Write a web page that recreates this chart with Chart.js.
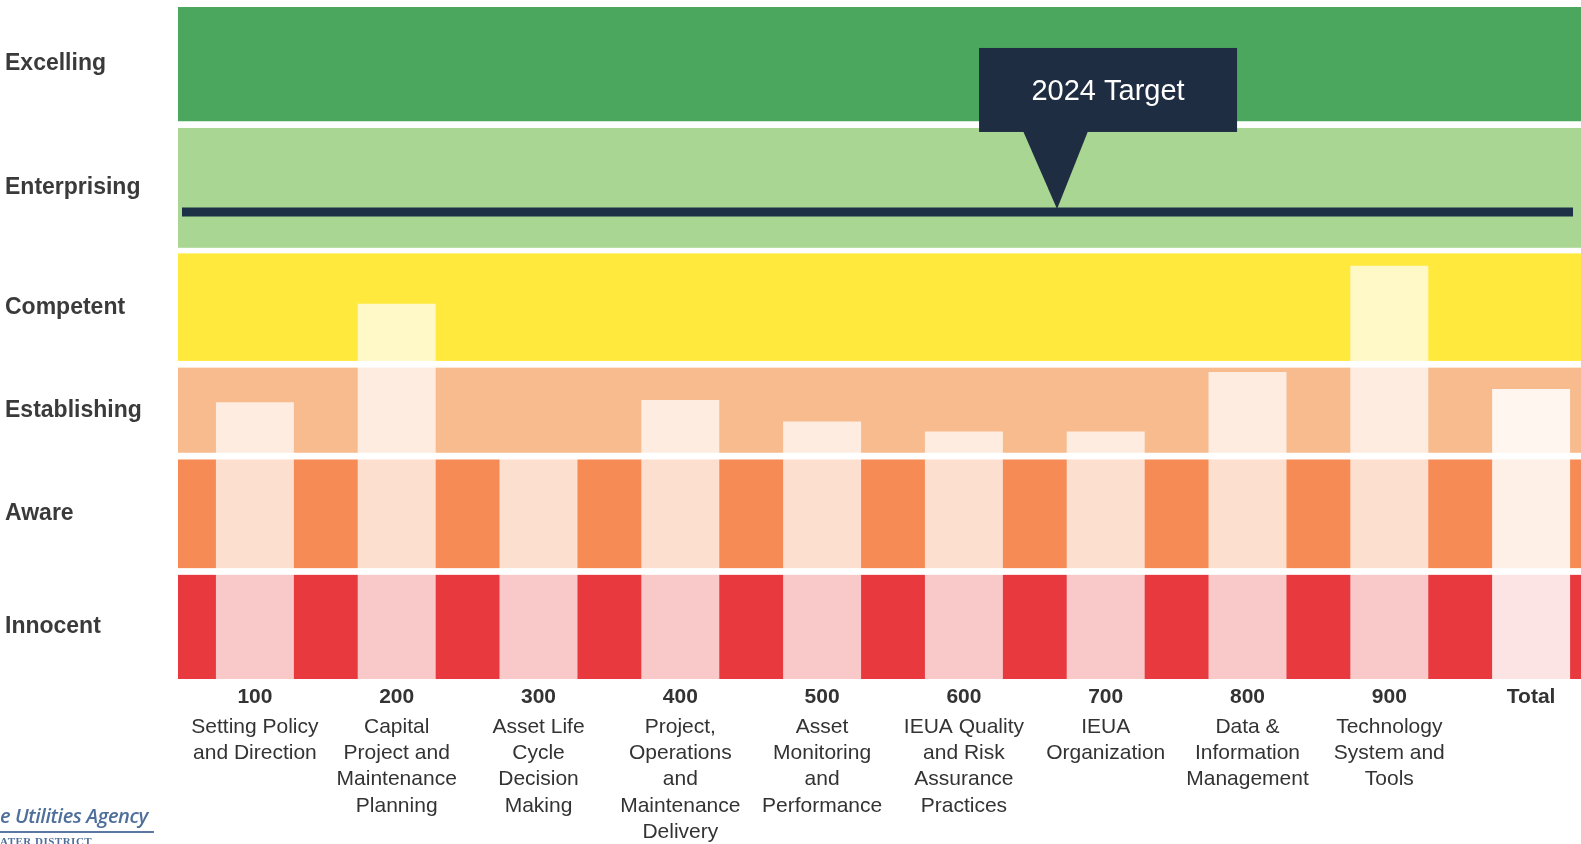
<!DOCTYPE html>
<html>
<head>
<meta charset="utf-8">
<script src="https://cdn.jsdelivr.net/npm/chart.js@4/dist/chart.umd.min.js"></script>
<style>
html,body{margin:0;padding:0;background:#fff;overflow:hidden;width:1581px;height:844px;}
#wrap{position:absolute;left:0;top:0;width:1602px;height:844px;}
#logo1{position:absolute;left:0;top:802px;font-family:"Open Sans","Liberation Sans",sans-serif;font-style:italic;font-weight:600;font-size:20px;color:#4f6f9b;letter-spacing:-0.4px;white-space:nowrap;}
#logoLine{position:absolute;left:0;top:831px;width:154px;height:2px;background:#5a78a2;}
#logo2{position:absolute;left:0;top:835px;font-family:"Liberation Serif",serif;font-weight:bold;font-size:11px;color:#4f6f9b;letter-spacing:0.5px;white-space:nowrap;}
</style>
</head>
<body>
<div id="wrap"><canvas id="c"></canvas></div>
<div id="logo1">e Utilities Agency</div>
<div id="logoLine"></div>
<div id="logo2">ATER DISTRICT</div>
<script>
// Maturity levels (bottom to top) and their band limits on the score axis
const levelNames = ['Innocent', 'Aware', 'Establishing', 'Competent', 'Enterprising', 'Excelling'];
const levelLow  = [0.00, 0.99, 2.02, 2.84, 3.85, 4.98];
const levelHigh = [0.93, 1.96, 2.78, 3.80, 4.92, 6.00];
const levelColors = ['#e8393f', '#f68b55', '#f7bb8e', '#fee93c', '#a9d692', '#4ba75e'];

// Categories
const codes = ['100', '200', '300', '400', '500', '600', '700', '800', '900', 'Total'];
const names = [
  ['Setting Policy', 'and Direction'],
  ['Capital', 'Project and', 'Maintenance', 'Planning'],
  ['Asset Life', 'Cycle', 'Decision', 'Making'],
  ['Project,', 'Operations', 'and', 'Maintenance', 'Delivery'],
  ['Asset', 'Monitoring', 'and', 'Performance'],
  ['IEUA Quality', 'and Risk', 'Assurance', 'Practices'],
  ['IEUA', 'Organization'],
  ['Data &', 'Information', 'Management'],
  ['Technology', 'System and', 'Tools'],
  ['']
];

// Current scores
const scores = [2.47, 3.35, 1.98, 2.49, 2.30, 2.21, 2.21, 2.74, 3.69, 2.59];

// Target
const targetScore = 4.17;
const targetLabel = '2024 Target';

const barColors = codes.map(c => c === 'Total' ? 'rgba(255,255,255,0.86)' : 'rgba(255,255,255,0.72)');

const bandsPlugin = {
  id: 'bands',
  beforeDatasetsDraw(chart) {
    const {ctx, chartArea: a, scales: {y}} = chart;
    ctx.save();
    const x0 = a.left - 6;
    levelNames.forEach((n, i) => {
      const top = y.getPixelForValue(levelHigh[i]);
      const bot = y.getPixelForValue(levelLow[i]);
      ctx.fillStyle = levelColors[i];
      ctx.fillRect(x0, top, chart.width - x0, bot - top);
    });
    ctx.restore();
  }
};

const targetPlugin = {
  id: 'target',
  afterDatasetsDraw(chart) {
    const {ctx, chartArea: a, scales: {y}} = chart;
    const ly = y.getPixelForValue(targetScore);
    ctx.save();
    ctx.strokeStyle = '#1d3045';
    ctx.lineWidth = 9;
    ctx.beginPath();
    ctx.moveTo(a.left - 2, ly);
    ctx.lineTo(a.right - 29, ly);
    ctx.stroke();

    const tipX = a.left + 0.6157 * (a.right - a.left);
    const boxL = tipX - 78, boxR = tipX + 180;
    const boxT = ly - 164, boxB = ly - 80;
    ctx.fillStyle = '#1f2d42';
    ctx.fillRect(boxL, boxT, boxR - boxL, boxB - boxT);
    ctx.beginPath();
    ctx.moveTo(tipX - 34, boxB - 1);
    ctx.lineTo(tipX + 31, boxB - 1);
    ctx.lineTo(tipX, ly - 3);
    ctx.closePath();
    ctx.fill();
    ctx.fillStyle = '#ffffff';
    ctx.font = '29px "Liberation Sans", Arial, sans-serif';
    ctx.textAlign = 'center';
    ctx.textBaseline = 'middle';
    ctx.fillText(targetLabel, (boxL + boxR) / 2, boxT + 44);
    ctx.restore();
  }
};

Chart.defaults.font.family = '"Liberation Sans", Arial, sans-serif';

new Chart(document.getElementById('c'), {
  type: 'bar',
  data: {
    labels: codes,
    datasets: [{
      label: 'Score',
      data: scores,
      backgroundColor: barColors,
      borderWidth: 0,
      categoryPercentage: 1.0,
      barPercentage: 0.55
    }]
  },
  options: {
    responsive: true,
    maintainAspectRatio: false,
    animation: false,
    layout: {padding: {left: 5, top: 7, right: 0, bottom: 0}},
    plugins: {legend: {display: false}, tooltip: {enabled: false}},
    scales: {
      x: {
        type: 'category',
        position: 'bottom',
        weight: 0,
        grid: {display: false, drawTicks: false},
        border: {display: false},
        ticks: {
          autoSkip: false, maxRotation: 0, minRotation: 0, padding: 6,
          color: '#333333',
          font: {size: 21, weight: 'bold', lineHeight: 1.2}
        },
        afterFit(axis) { axis.height = 30; axis.paddingLeft = 0; axis.paddingRight = 0; }
      },
      x2: {
        type: 'category',
        position: 'bottom',
        weight: 1,
        labels: names,
        offset: true,
        grid: {display: false, drawTicks: false},
        border: {display: false},
        ticks: {
          autoSkip: false, maxRotation: 0, minRotation: 0, padding: 5,
          color: '#333333',
          font: {size: 21, lineHeight: 1.25}
        },
        afterFit(axis) { axis.height = 135; axis.paddingLeft = 0; axis.paddingRight = 0; }
      },
      y: {
        type: 'linear',
        min: 0,
        max: 6,
        grid: {display: false, drawTicks: false},
        border: {display: false},
        afterBuildTicks(axis) {
          axis.ticks = levelNames.map((n, i) => ({value: (levelLow[i] + levelHigh[i]) / 2}));
        },
        ticks: {
          autoSkip: false,
          crossAlign: 'far',
          padding: 0,
          color: '#3a3a3a',
          font: {size: 23, weight: 'bold'},
          callback: (v, i) => levelNames[i]
        },
        afterFit(axis) { axis.width = 179; axis.paddingTop = 0; axis.paddingBottom = 0; }
      }
    }
  },
  plugins: [bandsPlugin, targetPlugin]
});
</script>
</body>
</html>
